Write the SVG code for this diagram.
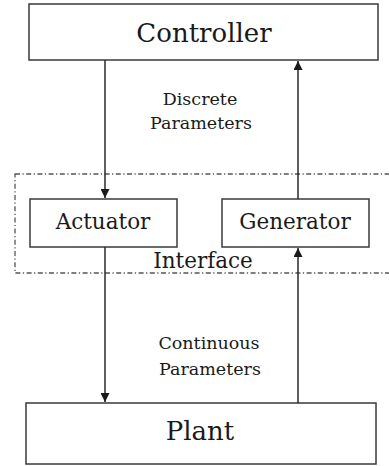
<svg xmlns="http://www.w3.org/2000/svg" width="389" height="466" viewBox="0 0 389 466">
  <style>
    .box { fill: #ffffff; stroke: #3a3a3a; stroke-width: 1.5; }
    .frame { fill: none; stroke: #555555; stroke-width: 1.3; stroke-dasharray: 5 2.5 1.2 2.5; }
    .wire { fill: none; stroke: #2a2a2a; stroke-width: 1.5; }
    .lbl { fill: #1a1a1a; text-anchor: middle; font-family: "DejaVu Serif", serif; }
    .big { font-size: 26px; }
    .mid { font-size: 21.5px; }
    .small { font-size: 17.5px; }
  </style>
  <defs>
    <marker id="arrow" viewBox="0 0 10 10" refX="10" refY="5" markerWidth="9" markerHeight="9" markerUnits="userSpaceOnUse" orient="auto">
      <path d="M0,0 L10,5 L0,10 Z" fill="#1a1a1a"/>
    </marker>
  </defs>

  <rect width="389" height="466" fill="#ffffff"/>

  <!-- interface boundary, runs past the right edge -->
  <g id="interface">
    <rect class="frame" x="15" y="174" width="390" height="99"/>
    <text class="lbl mid" x="203" y="268">Interface</text>
  </g>

  <g id="controller">
    <rect class="box" x="29" y="4" width="349" height="56"/>
    <text class="lbl big" x="204" y="42">Controller</text>
  </g>

  <g id="actuator">
    <rect class="box" x="30" y="199" width="147" height="48"/>
    <text class="lbl mid" x="103" y="229">Actuator</text>
  </g>

  <g id="generator">
    <rect class="box" x="222" y="199" width="147" height="48"/>
    <text class="lbl mid" x="295" y="229">Generator</text>
  </g>

  <g id="plant">
    <rect class="box" x="26" y="403" width="350" height="61"/>
    <text class="lbl big" x="200" y="440">Plant</text>
  </g>

  <g id="connectors">
    <line class="wire" x1="105" y1="60" x2="105" y2="198" marker-end="url(#arrow)"/>
    <line class="wire" x1="298" y1="199" x2="298" y2="61" marker-end="url(#arrow)"/>
    <line class="wire" x1="105" y1="247" x2="105" y2="402" marker-end="url(#arrow)"/>
    <line class="wire" x1="298" y1="403" x2="298" y2="248" marker-end="url(#arrow)"/>
    <text class="lbl small" x="200" y="105">Discrete</text>
    <text class="lbl small" x="201" y="129">Parameters</text>
    <text class="lbl small" x="209" y="349">Continuous</text>
    <text class="lbl small" x="210" y="375">Parameters</text>
  </g>
</svg>
